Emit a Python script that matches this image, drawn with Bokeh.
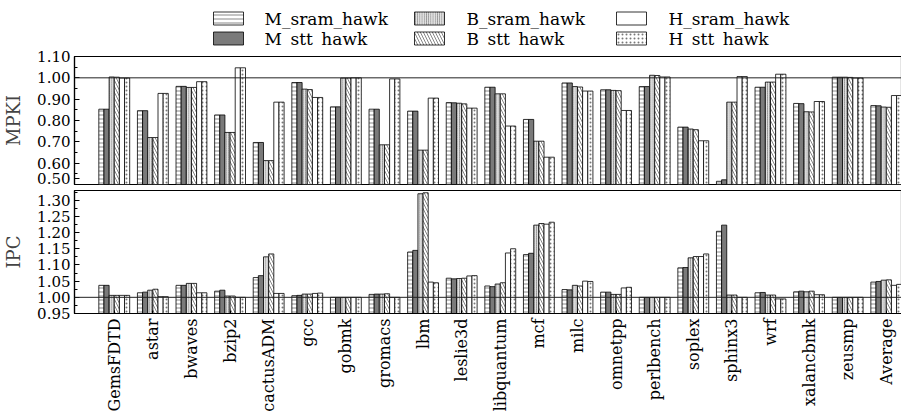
import numpy as np
from bokeh.plotting import figure
from bokeh.layouts import column
from bokeh.models import Range1d, FixedTicker, Span, ColumnDataSource
from bokeh.embed import file_html
from bokeh.resources import INLINE
from bokeh.core.properties import value

benchmarks = ["GemsFDTD", "astar", "bwaves", "bzip2", "cactusADM", "gcc", "gobmk",
              "gromacs", "lbm", "leslie3d", "libquantum", "mcf", "milc", "omnetpp",
              "perlbench", "soplex", "sphinx3", "wrf", "xalancbmk", "zeusmp", "Average"]
series = ["M_sram_hawk", "M_stt_hawk", "B_sram_hawk", "B_stt_hawk", "H_sram_hawk", "H_stt_hawk"]

mpki_M_sram = [0.853, 0.846, 0.960, 0.826, 0.697, 0.978, 0.864, 0.853, 0.844, 0.884, 0.956,
               0.805, 0.976, 0.944, 0.959, 0.769, 0.515, 0.956, 0.880, 1.003, 0.870]
mpki_M_stt = [0.853, 0.846, 0.960, 0.826, 0.697, 0.978, 0.864, 0.853, 0.844, 0.883, 0.956,
              0.805, 0.976, 0.944, 0.959, 0.769, 0.522, 0.956, 0.879, 1.003, 0.869]
mpki_B_sram = [1.004, 0.720, 0.955, 0.744, 0.612, 0.947, 0.999, 0.686, 0.661, 0.881, 0.925,
               0.703, 0.959, 0.941, 1.012, 0.760, 0.886, 0.980, 0.841, 1.003, 0.863]
mpki_B_stt = [1.003, 0.720, 0.955, 0.744, 0.612, 0.945, 0.999, 0.686, 0.661, 0.878, 0.925,
              0.703, 0.957, 0.940, 1.011, 0.757, 0.886, 0.980, 0.840, 1.002, 0.862]
mpki_H_sram = [0.999, 0.927, 0.982, 1.047, 0.886, 0.908, 1.000, 0.995, 0.905, 0.858, 0.774,
               0.628, 0.938, 0.847, 1.004, 0.705, 1.006, 1.017, 0.889, 0.999, 0.917]
mpki_H_stt = [0.999, 0.927, 0.982, 1.047, 0.886, 0.908, 1.000, 0.995, 0.905, 0.858, 0.774,
              0.628, 0.938, 0.847, 1.004, 0.705, 1.006, 1.017, 0.889, 0.999, 0.917]

ipc_M_sram = [1.037, 1.014, 1.037, 1.019, 1.061, 1.005, 1.000, 1.009, 1.140, 1.059, 1.035,
              1.132, 1.024, 1.016, 1.000, 1.091, 1.204, 1.014, 1.017, 1.000, 1.047]
ipc_M_stt = [1.037, 1.016, 1.037, 1.022, 1.067, 1.006, 1.000, 1.010, 1.145, 1.057, 1.033,
             1.136, 1.023, 1.016, 1.000, 1.092, 1.223, 1.015, 1.019, 1.000, 1.049]
ipc_B_sram = [1.006, 1.022, 1.043, 1.004, 1.125, 1.010, 1.000, 1.010, 1.320, 1.058, 1.041,
              1.223, 1.037, 1.009, 1.000, 1.122, 1.007, 1.007, 1.017, 1.000, 1.053]
ipc_B_stt = [1.006, 1.025, 1.043, 1.004, 1.134, 1.010, 1.000, 1.011, 1.323, 1.059, 1.045,
             1.228, 1.035, 1.009, 1.000, 1.126, 1.007, 1.007, 1.019, 1.000, 1.054]
ipc_H_sram = [1.006, 1.002, 1.014, 1.000, 1.012, 1.012, 1.000, 1.000, 1.047, 1.066, 1.137,
              1.226, 1.050, 1.029, 1.000, 1.126, 1.000, 0.995, 1.008, 1.000, 1.037]
ipc_H_stt = [1.006, 1.002, 1.014, 1.000, 1.012, 1.013, 1.000, 1.000, 1.045, 1.067, 1.150,
             1.232, 1.049, 1.031, 1.000, 1.134, 1.000, 0.995, 1.008, 1.000, 1.040]

mpki_ticks = [0.50, 0.60, 0.70, 0.80, 0.90, 1.00, 1.10]
ipc_ticks = [0.95, 1.00, 1.05, 1.10, 1.15, 1.20, 1.25, 1.30]

mpki_data = [mpki_M_sram, mpki_M_stt, mpki_B_sram, mpki_B_stt, mpki_H_sram, mpki_H_stt]
ipc_data = [ipc_M_sram, ipc_M_stt, ipc_B_sram, ipc_B_stt, ipc_H_sram, ipc_H_stt]

FONT = "DejaVu Serif"
styles = [
    dict(fill_color="white", hatch_pattern="-", hatch_color="#555555", hatch_scale=4, hatch_weight=0.7),
    dict(fill_color="#7a7a7a"),
    dict(fill_color="#e0e0e0", hatch_pattern="|", hatch_color="#6a6a6a", hatch_scale=2.2, hatch_weight=0.8),
    dict(fill_color="white", hatch_pattern="\\", hatch_color="#666666", hatch_scale=6, hatch_weight=0.8),
    dict(fill_color="white"),
    dict(fill_color="white", hatch_pattern=".", hatch_color="#777777", hatch_scale=4, hatch_weight=0.8),
]

n = len(benchmarks)
x = np.arange(n)
bw = 0.1333
XR = (-1.03, 20.42)
LEFT = 73
FW = 828


def style_yaxis(p, ticks, minor, label, fmt_over):
    p.yaxis.ticker = FixedTicker(ticks=ticks, minor_ticks=minor)
    p.yaxis.axis_label = label
    p.yaxis.axis_label_text_font = FONT
    p.yaxis.axis_label_text_font_style = "normal"
    p.yaxis.axis_label_text_font_size = "18px"
    p.yaxis.axis_label_standoff = 10
    p.yaxis.major_label_text_font = FONT
    p.yaxis.major_label_text_font_size = "15px"
    p.yaxis.major_label_text_color = "black"
    p.yaxis.major_label_standoff = 4
    p.yaxis.major_tick_in = 5
    p.yaxis.major_tick_out = 0
    p.yaxis.minor_tick_in = 3
    p.yaxis.minor_tick_out = 0
    p.yaxis.axis_line_color = "black"
    p.yaxis.axis_line_width = 1.2
    p.yaxis.major_tick_line_color = "black"
    p.yaxis.minor_tick_line_color = "black"
    p.yaxis.major_label_overrides = fmt_over


def draw_bars(p, data):
    for k, (vals, st) in enumerate(zip(data, styles)):
        src = ColumnDataSource(dict(x=x + (k - 2.5) * bw, top=vals))
        p.vbar(x="x", top="top", bottom=0, width=bw, source=src,
               line_color="black", line_width=0.8, **st)


# Legend figure: data coords are pixels relative to the frame left
LH = 48
leg = figure(frame_width=FW, frame_height=LH, x_range=Range1d(0, FW), y_range=Range1d(0, LH),
             output_backend="svg", toolbar_location=None,
             min_border_left=LEFT, min_border_right=0, min_border_top=0, min_border_bottom=0,
             x_axis_location=None, y_axis_location=None)
leg.outline_line_color = None
leg.grid.visible = False
sw_x = [154, 154, 355, 355, 557, 557]
sw_y = [30, 10, 30, 10, 30, 10]
tx_x = [190, 190, 392, 392, 594, 594]
for k, st in enumerate(styles):
    leg.rect(x=[sw_x[k]], y=[sw_y[k]], width=30, height=13, line_color="black", line_width=0.8, **st)
leg.text(x=tx_x, y=sw_y, text=series, text_font=value(FONT), text_font_size="17px",
         text_baseline="middle", text_align="left", text_color="black")

# Top panel (MPKI)
p1 = figure(frame_width=FW, frame_height=128, x_range=Range1d(*XR), y_range=Range1d(0.50, 1.10),
            output_backend="svg", toolbar_location=None, x_axis_location=None,
            min_border_left=LEFT, min_border_right=0, min_border_top=8, min_border_bottom=5)
p1.grid.visible = False
p1.outline_line_color = "black"
p1.outline_line_width = 1.2
draw_bars(p1, mpki_data)
p1.add_layout(Span(location=1.0, dimension="width", line_color="#222222", line_width=1))
mpki_minor = [round(0.50 + 0.05 * i, 3) for i in range(13)]
style_yaxis(p1, [0.53] + mpki_ticks[1:], mpki_minor, "MPKI",
            {0.53: "0.50", 0.6: "0.60", 0.7: "0.70", 0.8: "0.80", 0.9: "0.90", 1.0: "1.00", 1.1: "1.10"})

# Bottom panel (IPC)
p2 = figure(frame_width=FW, frame_height=123, x_range=Range1d(*XR), y_range=Range1d(0.95, 1.33),
            output_backend="svg", toolbar_location=None,
            min_border_left=LEFT, min_border_right=0, min_border_top=1, min_border_bottom=0)
p2.grid.visible = False
p2.outline_line_color = "black"
p2.outline_line_width = 1.2
draw_bars(p2, ipc_data)
p2.add_layout(Span(location=1.0, dimension="width", line_color="#222222", line_width=1))
ipc_minor = [round(0.95 + 0.025 * i, 4) for i in range(16)]
style_yaxis(p2, ipc_ticks, ipc_minor, "IPC", {t: "%.2f" % t for t in ipc_ticks})
p2.xaxis.ticker = FixedTicker(ticks=list(range(n)))
p2.xaxis.major_label_overrides = {i: b for i, b in enumerate(benchmarks)}
p2.xaxis.major_label_orientation = np.pi / 2
p2.xaxis.major_label_text_font = FONT
p2.xaxis.major_label_text_font_size = "16px"
p2.xaxis.major_label_text_color = "black"
p2.xaxis.major_label_standoff = 5
p2.xaxis.major_tick_in = 3
p2.xaxis.major_tick_out = 0
p2.xaxis.minor_tick_line_color = None
p2.xaxis.axis_line_color = "black"
p2.xaxis.axis_line_width = 1.2

layout = column(leg, p1, p2, spacing=0)
open("out.html", "w").write(file_html(layout, INLINE))
